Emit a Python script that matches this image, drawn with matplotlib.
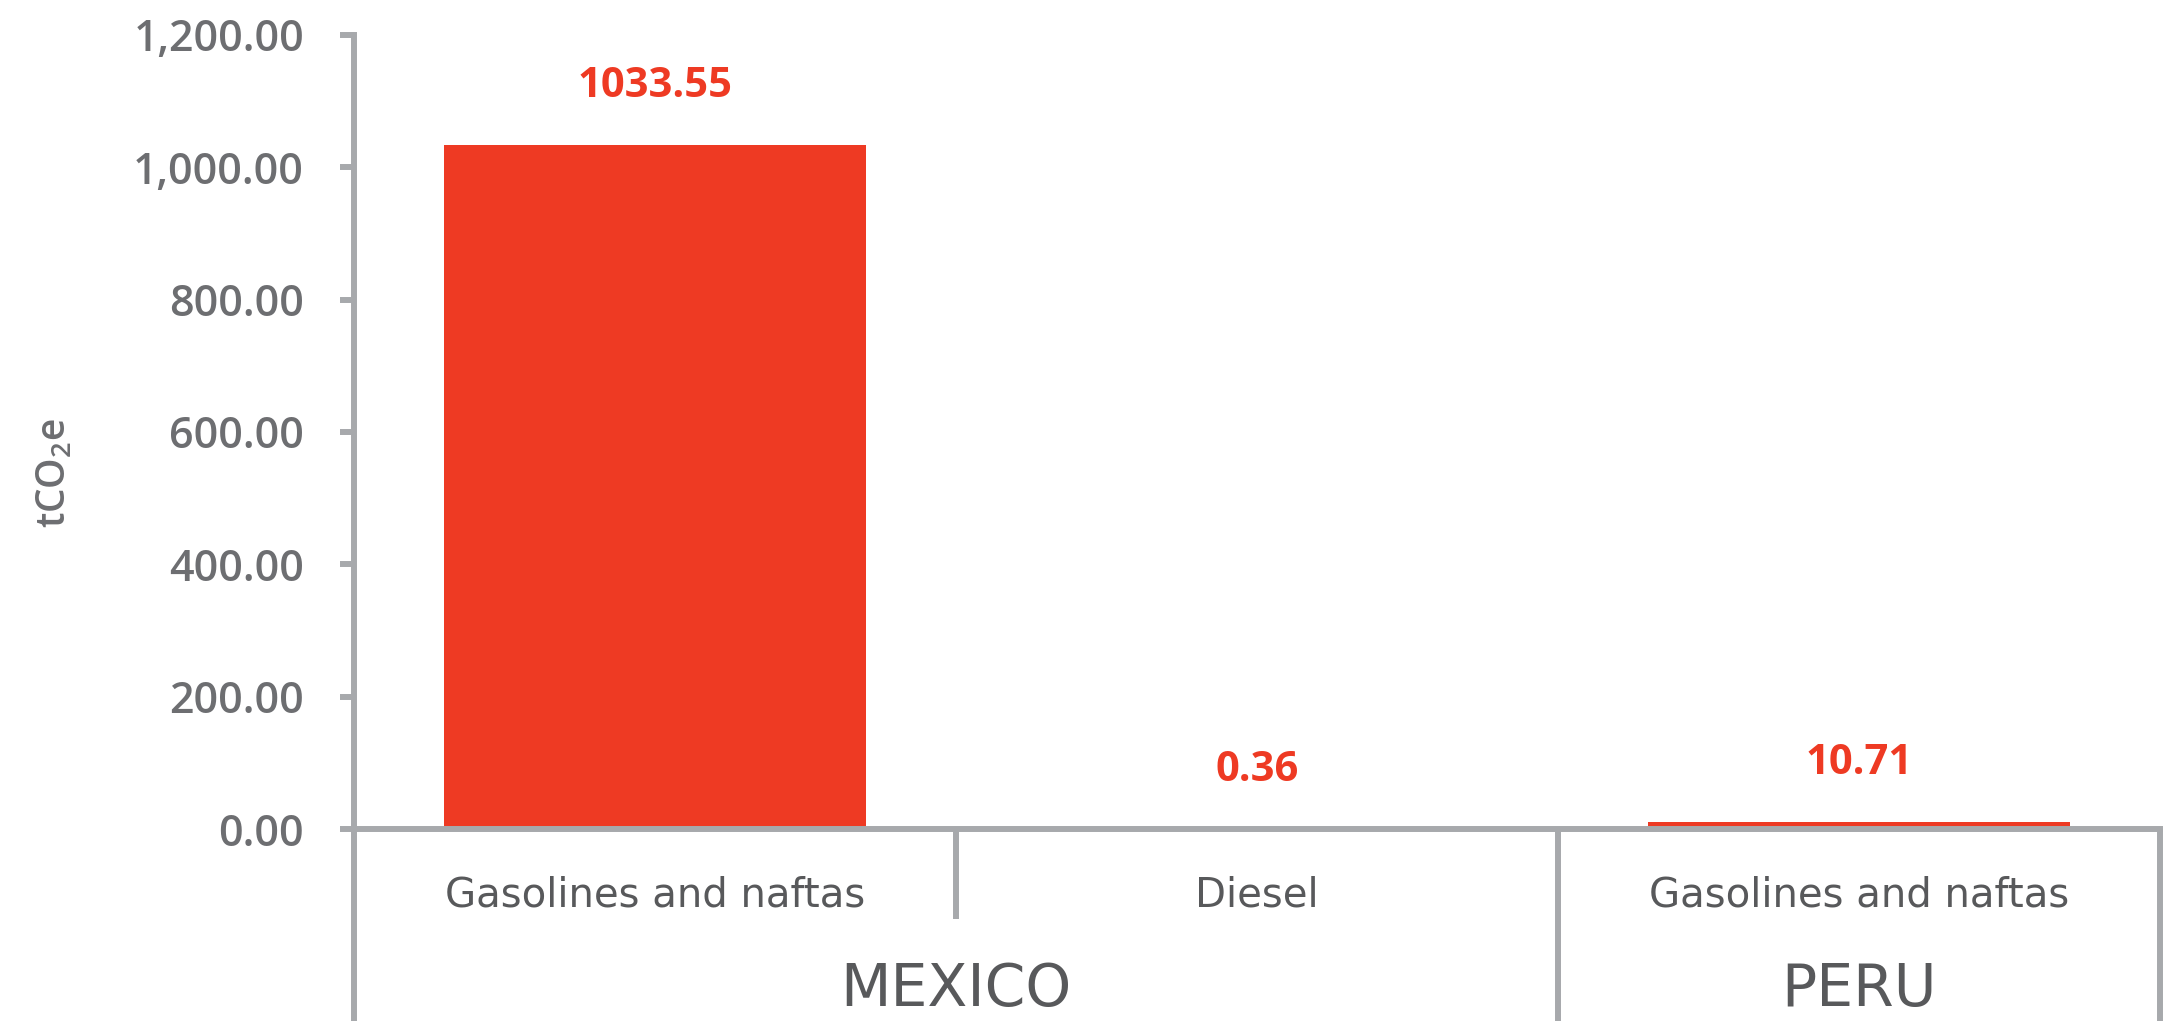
import matplotlib
matplotlib.use("Agg")
import matplotlib.pyplot as plt

# Emissions by fuel, grouped by country
countries = ["MEXICO", "PERU"]
fuels = ["Gasolines and naftas", "Diesel", "Gasolines and naftas"]
fuel_country = [0, 0, 1]
emissions = [1033.55, 0.36, 10.71]
y_ticks = [0, 200, 400, 600, 800, 1000, 1200]

BAR_RED = "#ee3a23"
AXIS_GREY = "#a7a9ac"
TICK_GREY = "#6d6e71"
LABEL_GREY = "#58595b"
FONT = ["Open Sans", "DejaVu Sans"]
WIDE = ["DejaVu Sans"]

plt.rcParams["font.family"] = FONT
plt.rcParams["mathtext.fontset"] = "custom"
plt.rcParams["mathtext.rm"] = "Open Sans:semibold"

W, H = 2183, 1021
fig = plt.figure(figsize=(W / 100, H / 100), dpi=100)

left_px, right_px = 354, 2160
top_px, base_px = 35, 829
ax = fig.add_axes([left_px / W, 1 - base_px / H,
                   (right_px - left_px) / W, (base_px - top_px) / H])

x = list(range(len(emissions)))
ax.bar(x, emissions, width=0.7, color=BAR_RED, zorder=2)
ax.set_xlim(-0.5, len(emissions) - 0.5)
ax.set_ylim(0, 1200)

lw = 4.3
for s in ["top", "right"]:
    ax.spines[s].set_visible(False)
ax.spines["left"].set_color(AXIS_GREY)
ax.spines["left"].set_linewidth(lw)
ax.spines["bottom"].set_color(AXIS_GREY)
ax.spines["bottom"].set_linewidth(lw)
ax.spines["bottom"].set_zorder(3)

ax.set_yticks(y_ticks)
ax.set_yticklabels([f"{v:,.2f}" for v in y_ticks])
ax.tick_params(axis="y", length=10, width=lw, color=AXIS_GREY, pad=26,
               labelsize=31, labelcolor=TICK_GREY)
for t in ax.get_yticklabels():
    t.set_fontweight("semibold")
ax.set_xticks([])

# value labels above each bar
for xi, v in zip(x, emissions):
    ax.annotate(f"{v:.2f}", (xi, v), xytext=(0, 42), textcoords="offset points",
                ha="center", va="center", fontsize=30, fontweight="bold",
                color=BAR_RED)

# hierarchical category axis below the plot
trans = ax.get_xaxis_transform()
px = lambda ypix: (base_px - ypix) / (base_px - top_px)  # figure row -> axes y
bottom = px(H + 5)
line_kw = dict(color=AXIS_GREY, lw=lw, transform=trans, clip_on=False,
               solid_capstyle="butt")
ax.plot([-0.5, -0.5], [0, bottom], **line_kw)
ax.plot([2.5, 2.5], [0, bottom], **line_kw)
ax.plot([1.5, 1.5], [0, bottom], **line_kw)
ax.plot([0.5, 0.5], [0, px(919)], **line_kw)

for xi, name in zip(x, fuels):
    ax.text(xi, px(906), name, transform=trans, ha="center", va="baseline",
            fontsize=29, family=WIDE, color=LABEL_GREY)

for ci, name in enumerate(countries):
    members = [xi for xi, c in zip(x, fuel_country) if c == ci]
    lo, hi = min(members) - 0.5, max(members) + 0.5
    ax.text((lo + hi) / 2, px(1006), name, transform=trans, ha="center",
            va="baseline", fontsize=42, family=WIDE, color=LABEL_GREY)

fig.text(56 / W, 1 - 473 / H, r"tCO$_\mathregular{2}$e", rotation=90,
         ha="center", va="center", fontsize=28, fontweight="semibold",
         color=TICK_GREY)

fig.savefig("out.png", dpi=100, facecolor="white")
